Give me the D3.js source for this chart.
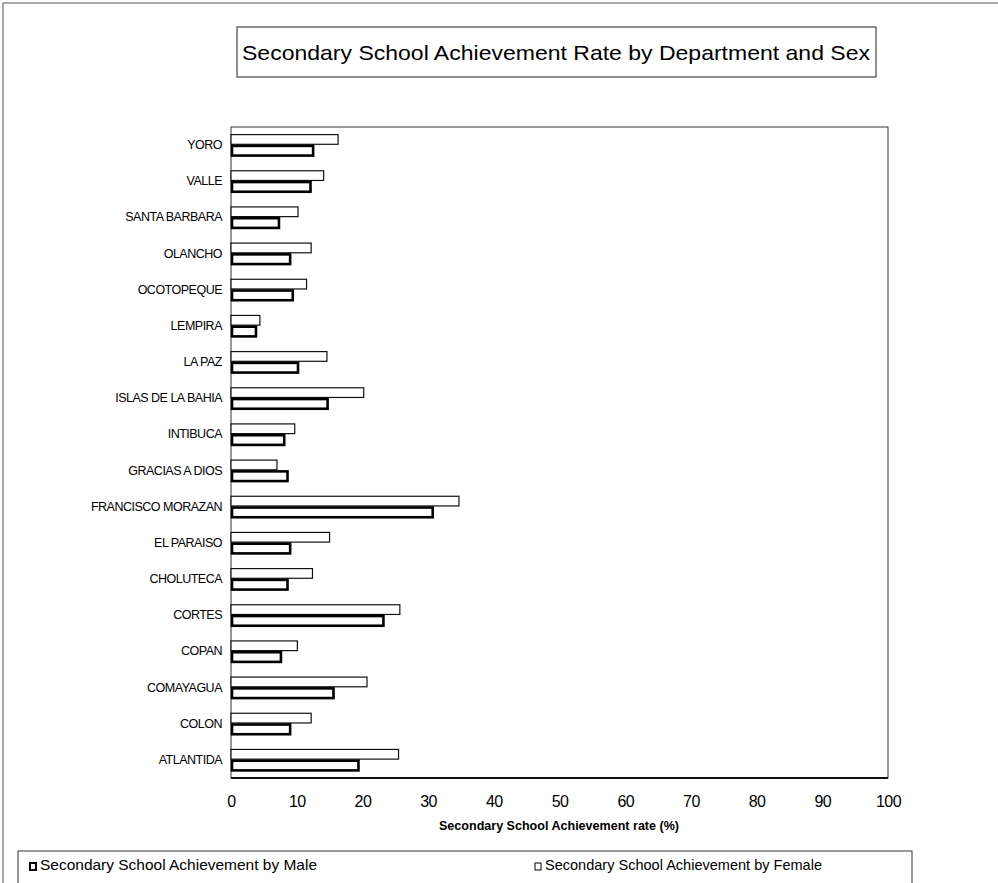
<!DOCTYPE html>
<html>
<head>
<meta charset="utf-8">
<script src="https://cdn.jsdelivr.net/npm/d3@7"></script>
<style>
  html, body { margin: 0; padding: 0; background: #fff; }
  svg { display: block; font-family: "Liberation Sans", Arial, sans-serif; }
</style>
</head>
<body>
<svg id="chart" width="998" height="883"></svg>
<script>
// Departments, listed top to bottom
const departments = [
  "YORO", "VALLE", "SANTA BARBARA", "OLANCHO", "OCOTOPEQUE", "LEMPIRA",
  "LA PAZ", "ISLAS DE LA BAHIA", "INTIBUCA", "GRACIAS A DIOS",
  "FRANCISCO MORAZAN", "EL PARAISO", "CHOLUTECA", "CORTES", "COPAN",
  "COMAYAGUA", "COLON", "ATLANTIDA"
];
// Secondary school achievement rate (%) by sex
const femaleRate = [16.3, 14.1, 10.2, 12.2, 11.5, 4.4, 14.6, 20.2, 9.7, 7.0,
                    34.7, 15.0, 12.4, 25.7, 10.1, 20.7, 12.2, 25.5];
const maleRate   = [12.5, 12.1, 7.3, 9.0, 9.4, 3.8, 10.2, 14.7, 8.1, 8.6,
                    30.7, 9.0, 8.6, 23.2, 7.6, 15.6, 9.0, 19.4];
const xTicks = [0, 10, 20, 30, 40, 50, 60, 70, 80, 90, 100];
const seriesNames = ["Female", "Male"];
const legendLabels = ["Secondary School Achievement by Male", "Secondary School Achievement by Female"];
const chartTitle = "Secondary School Achievement Rate by Department and Sex";
const xAxisTitle = "Secondary School Achievement rate (%)";

const rows = departments.map((d, i) => ({ dept: d, Female: femaleRate[i], Male: maleRate[i] }));

const svg = d3.select("#chart");
const plot = { left: 231, right: 888, top: 127, bottom: 778 };

// Outer frame (top and left edges)
svg.append("path")
  .attr("d", "M3,883 V3 H998")
  .attr("fill", "none").attr("stroke", "#555").attr("stroke-width", 1);

// Title box
const titleBox = { x: 237, y: 27, w: 639, h: 50 };
svg.append("rect")
  .attr("x", titleBox.x).attr("y", titleBox.y)
  .attr("width", titleBox.w).attr("height", titleBox.h)
  .attr("fill", "#fff").attr("stroke", "#222").attr("stroke-width", 1);
svg.append("text")
  .attr("x", titleBox.x + 5).attr("y", 60)
  .attr("font-size", 21)
  .attr("textLength", 628).attr("lengthAdjust", "spacingAndGlyphs")
  .attr("fill", "#000")
  .text(chartTitle);

// Scales
const x = d3.scaleLinear().domain([0, 100]).range([plot.left, plot.right]);
const y = d3.scaleBand().domain(departments).range([plot.top, plot.bottom])
  .paddingInner(0.42).paddingOuter(0.21);
const ySub = d3.scaleBand().domain(seriesNames).range([0, y.bandwidth()]).paddingInner(0.14);

// Plot frame
svg.append("rect")
  .attr("x", plot.left).attr("y", plot.top)
  .attr("width", plot.right - plot.left).attr("height", plot.bottom - plot.top)
  .attr("fill", "none").attr("stroke", "#333").attr("stroke-width", 1);
svg.append("line")
  .attr("x1", plot.left).attr("x2", plot.right)
  .attr("y1", plot.bottom).attr("y2", plot.bottom)
  .attr("stroke", "#111").attr("stroke-width", 2);

// Bars
const groups = svg.append("g").selectAll("g")
  .data(rows).join("g")
  .attr("transform", d => `translate(0,${y(d.dept)})`);

groups.append("rect")
  .attr("x", x(0))
  .attr("y", ySub("Female"))
  .attr("width", d => x(d.Female) - x(0))
  .attr("height", ySub.bandwidth())
  .attr("fill", "#fff").attr("stroke", "#111").attr("stroke-width", 1.2);

groups.append("rect")
  .attr("x", x(0) + 1)
  .attr("y", ySub("Male"))
  .attr("width", d => x(d.Male) - x(0) - 1)
  .attr("height", ySub.bandwidth())
  .attr("fill", "#fff").attr("stroke", "#000").attr("stroke-width", 2.6);

// Category axis
const yAxis = svg.append("g")
  .attr("transform", `translate(${plot.left},0)`)
  .call(d3.axisLeft(y).tickSize(0).tickPadding(9));
yAxis.select(".domain").remove();
yAxis.selectAll("text")
  .attr("font-size", 12.5).attr("letter-spacing", "-0.5px")
  .attr("font-family", "Liberation Sans, Arial, sans-serif")
  .attr("fill", "#000");

// Value axis
const xAxis = svg.append("g")
  .attr("transform", `translate(0,${plot.bottom})`)
  .call(d3.axisBottom(x).tickValues(xTicks).tickSize(0).tickPadding(18));
xAxis.select(".domain").remove();
xAxis.selectAll("text")
  .attr("font-size", 16).attr("letter-spacing", "-0.6px")
  .attr("font-family", "Liberation Sans, Arial, sans-serif")
  .attr("fill", "#000");

svg.append("text")
  .attr("x", 439).attr("y", 830)
  .attr("font-size", 12).attr("font-weight", "bold")
  .attr("textLength", 240).attr("lengthAdjust", "spacingAndGlyphs")
  .attr("fill", "#000")
  .text(xAxisTitle);

// Legend
const legend = { x: 18, y: 851, w: 894, h: 40 };
svg.append("rect")
  .attr("x", legend.x).attr("y", legend.y)
  .attr("width", legend.w).attr("height", legend.h)
  .attr("fill", "#fff").attr("stroke", "#333").attr("stroke-width", 1);

const legendItems = [
  { label: legendLabels[0], sx: 30, tx: 40, sw: 2 },
  { label: legendLabels[1], sx: 535, tx: 545, sw: 1 }
];
const li = svg.append("g").selectAll("g").data(legendItems).join("g");
li.append("rect")
  .attr("x", d => d.sx).attr("y", 863)
  .attr("width", 6).attr("height", 7)
  .attr("fill", "#fff").attr("stroke", "#000").attr("stroke-width", d => d.sw);
li.append("text")
  .attr("x", d => d.tx).attr("y", 870)
  .attr("font-size", 15)
  .attr("textLength", 277).attr("lengthAdjust", "spacingAndGlyphs")
  .attr("fill", "#000")
  .text(d => d.label);
</script>
</body>
</html>
